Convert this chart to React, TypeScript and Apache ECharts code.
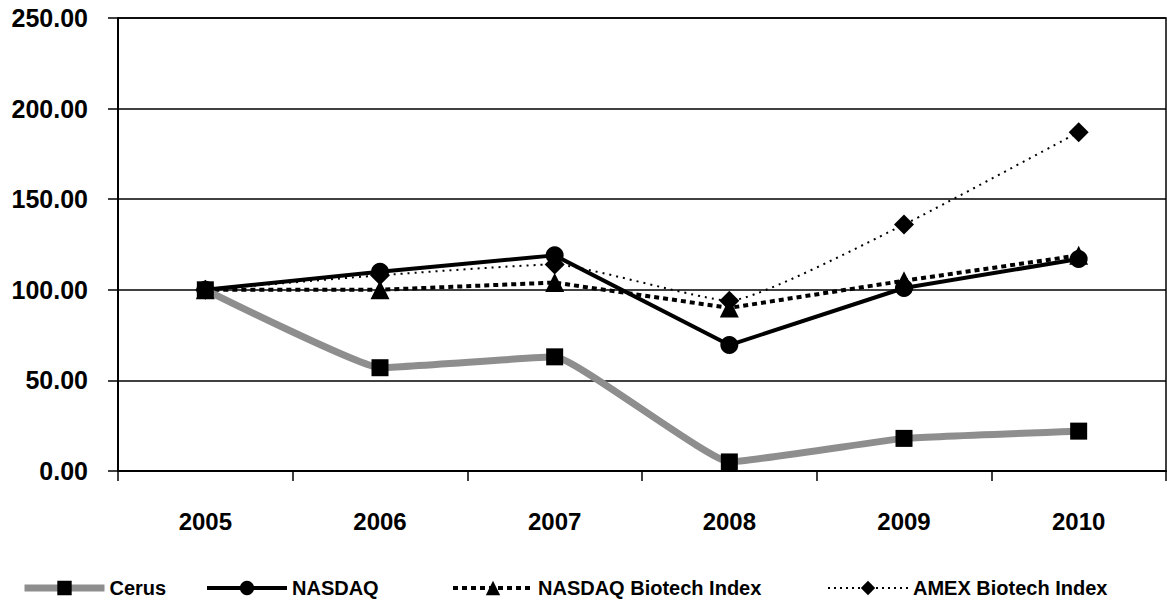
import React, { useEffect, useRef } from "react";
import * as echarts from "echarts";

const years = ["2005", "2006", "2007", "2008", "2009", "2010"];
const cerus = [100, 57, 63, 5, 18, 22];
const nasdaq = [100, 110, 119, 69.5, 101, 117];
const nasdaqBiotech = [100, 100, 104, 90, 105, 119];
const amexBiotech = [100, 108, 114, 94, 136, 187];

const FONT = "'Liberation Sans', Arial, sans-serif";

export default function App() {
  const ref = useRef<HTMLDivElement>(null);
  useEffect(() => {
    if (!ref.current) return;
    const chart = echarts.init(ref.current, null, { renderer: "svg" });
    const legendBase = {
      top: 573,
      itemWidth: 80,
      itemHeight: 18,
      itemGap: 0,
      textStyle: { fontFamily: FONT, fontWeight: "bold", fontSize: 20, color: "#000" },
      selectedMode: false,
    };
    chart.setOption({
      animation: false,
      backgroundColor: "#fff",
      grid: {
        left: 118,
        right: 1,
        top: 18,
        bottom: 132,
        show: true,
        borderColor: "#000",
        borderWidth: 1.5,
      },
      legend: [
        { ...legendBase, left: 16, data: ["Cerus"], lineStyle: { width: 7, color: "#8e8e8e" } },
        { ...legendBase, left: 200, data: ["NASDAQ"], lineStyle: { width: 4 } },
        { ...legendBase, left: 446, data: ["NASDAQ Biotech Index"], lineStyle: { width: 4, type: [5, 4] } },
        { ...legendBase, left: 822, data: ["AMEX Biotech Index"], lineStyle: { width: 2, type: [2, 4] } },
      ],
      xAxis: {
        type: "category",
        data: years,
        boundaryGap: true,
        axisLine: { lineStyle: { color: "#000", width: 2 } },
        axisTick: { show: true, length: 10, lineStyle: { color: "#000", width: 1.5 } },
        axisLabel: {
          margin: 38,
          fontFamily: FONT,
          fontWeight: "bold",
          fontSize: 24,
          color: "#000",
        },
      },
      yAxis: {
        type: "value",
        min: 0,
        max: 250,
        interval: 50,
        axisLine: { show: true, lineStyle: { color: "#000", width: 2 } },
        axisTick: { show: true, length: 10, lineStyle: { color: "#000", width: 1.5 } },
        splitLine: { lineStyle: { color: "#000", width: 1.5 } },
        axisLabel: {
          margin: 30,
          fontFamily: FONT,
          fontWeight: "bold",
          fontSize: 25,
          color: "#000",
          formatter: (v: number) => v.toFixed(2),
        },
      },
      series: [
        {
          name: "Cerus",
          type: "line",
          data: cerus,
          z: 5,
          smooth: 0.1,
          symbol: "rect",
          symbolSize: 17,
          itemStyle: { color: "#000" },
          lineStyle: { color: "#8e8e8e", width: 7 },
        },
        {
          name: "NASDAQ",
          type: "line",
          data: nasdaq,
          z: 4,
          symbol: "circle",
          symbolSize: 18,
          itemStyle: { color: "#000" },
          lineStyle: { color: "#000", width: 4 },
        },
        {
          name: "NASDAQ Biotech Index",
          type: "line",
          data: nasdaqBiotech,
          z: 3,
          symbol: "triangle",
          symbolSize: 19,
          itemStyle: { color: "#000" },
          lineStyle: { color: "#000", width: 4, type: [5, 4] },
        },
        {
          name: "AMEX Biotech Index",
          type: "line",
          data: amexBiotech,
          z: 2,
          smooth: 0.15,
          symbol: "diamond",
          symbolSize: 20,
          itemStyle: { color: "#000" },
          lineStyle: { color: "#000", width: 2, type: [2, 5] },
        },
      ],
    });
    return () => chart.dispose();
  }, []);
  return (
    <div
      ref={ref}
      style={{ position: "fixed", left: 0, top: 0, width: 1167, height: 603, background: "#fff" }}
    />
  );
}
